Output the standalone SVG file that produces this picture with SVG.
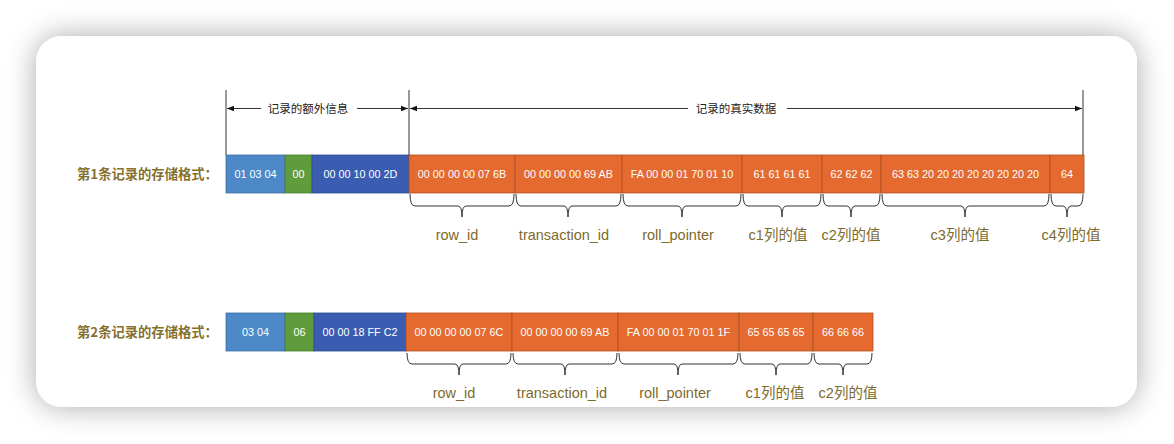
<svg xmlns="http://www.w3.org/2000/svg" width="1174" height="444" viewBox="0 0 1174 444">
<defs>
<filter id="sh" x="-10%" y="-20%" width="120%" height="140%">
<feGaussianBlur in="SourceAlpha" stdDeviation="15"/>
<feComponentTransfer><feFuncA type="linear" slope="0.34"/></feComponentTransfer>
<feMerge><feMergeNode/><feMergeNode in="SourceGraphic"/></feMerge>
</filter>
<marker id="ah" viewBox="0 0 10 10" refX="10" refY="5" markerWidth="7" markerHeight="7" orient="auto-start-reverse" markerUnits="userSpaceOnUse">
<path d="M0,1 L10,5 L0,9 Z" fill="#111"/>
</marker>
</defs>
<style>
.b1{fill:#4d89c8;stroke:#3f6fa3;stroke-width:0.8}
.g{fill:#5f9d3c;stroke:#4a7d2e;stroke-width:0.8}
.b2{fill:#3a5db1;stroke:#2e4b90;stroke-width:0.8}
.o{fill:#e46a30;stroke:#b04f22;stroke-width:0.8}
.bt{font-family:"Liberation Sans","Noto Sans",sans-serif;font-size:10.8px;fill:#fff;text-anchor:middle}
.rl{font-family:"Noto Sans CJK SC","Liberation Sans",sans-serif;font-size:13.3px;font-weight:bold;fill:#85702e}
.fl{font-family:"Liberation Sans","Noto Sans CJK SC",sans-serif;font-size:14.5px;fill:#7e6a2c;text-anchor:middle}
.tl{font-family:"Noto Sans CJK SC",sans-serif;font-size:11.5px;fill:#222;text-anchor:middle}
.ln{stroke:#333;stroke-width:1;fill:none}
.br{stroke:#333;stroke-width:1;fill:none}
</style>
<rect x="0" y="0" width="1174" height="444" fill="#ffffff"/>
<rect x="36" y="36" width="1101" height="371" rx="26" ry="26" fill="#ffffff" filter="url(#sh)"/>

<g id="top-dimensions">
<line class="ln" x1="226" y1="90" x2="226" y2="155"/>
<line class="ln" x1="409" y1="90" x2="409" y2="155"/>
<line class="ln" x1="1083" y1="90" x2="1083" y2="155"/>
<line class="ln" x1="227" y1="108.5" x2="261" y2="108.5" marker-start="url(#ah)"/>
<line class="ln" x1="357" y1="108.5" x2="408" y2="108.5" marker-end="url(#ah)"/>
<text class="tl" x="308" y="112.5">记录的额外信息</text>
<line class="ln" x1="410" y1="108.5" x2="688" y2="108.5" marker-start="url(#ah)"/>
<line class="ln" x1="787" y1="108.5" x2="1082" y2="108.5" marker-end="url(#ah)"/>
<text class="tl" x="736" y="112.5">记录的真实数据</text>
</g>

<g id="row1">
<text class="rl" x="77" y="178.5">第1条记录的存储格式：</text>
<rect class="b1" x="226" y="155" width="59" height="38"/>
<rect class="g" x="285" y="155" width="27" height="38"/>
<rect class="b2" x="312" y="155" width="97" height="38"/>
<rect class="o" x="409" y="155" width="106" height="38"/>
<rect class="o" x="515" y="155" width="107" height="38"/>
<rect class="o" x="622" y="155" width="120" height="38"/>
<rect class="o" x="742" y="155" width="80" height="38"/>
<rect class="o" x="822" y="155" width="59" height="38"/>
<rect class="o" x="881" y="155" width="169" height="38"/>
<rect class="o" x="1050" y="155" width="34" height="38"/>
<text class="bt" x="255.5" y="178">01 03 04</text>
<text class="bt" x="298.5" y="178">00</text>
<text class="bt" x="360.5" y="178">00 00 10 00 2D</text>
<text class="bt" x="462" y="178">00 00 00 00 07 6B</text>
<text class="bt" x="568.5" y="178">00 00 00 00 69 AB</text>
<text class="bt" x="682" y="178">FA 00 00 01 70 01 10</text>
<text class="bt" x="782" y="178">61 61 61 61</text>
<text class="bt" x="851.5" y="178">62 62 62</text>
<text class="bt" x="965.5" y="178">63 63 20 20 20 20 20 20 20 20</text>
<text class="bt" x="1067" y="178">64</text>
</g>

<g id="row1-braces">
<path class="br" d="M410,194 Q410,206 415,206 L458,206 Q462,206 462,217 Q462,206 466,206 L509,206 Q514,206 514,194"/>
<path class="br" d="M516,194 Q516,206 521,206 L564,206 Q568,206 568,217 Q568,206 572,206 L616,206 Q621,206 621,194"/>
<path class="br" d="M623,194 Q623,206 628,206 L678,206 Q682,206 682,217 Q682,206 686,206 L736,206 Q741,206 741,194"/>
<path class="br" d="M743,194 Q743,206 748,206 L778,206 Q782,206 782,217 Q782,206 786,206 L816,206 Q821,206 821,194"/>
<path class="br" d="M823,194 Q823,206 828,206 L847,206 Q851,206 851,217 Q851,206 855,206 L875,206 Q880,206 880,194"/>
<path class="br" d="M882,194 Q882,206 887,206 L961,206 Q965,206 965,217 Q965,206 969,206 L1044,206 Q1049,206 1049,194"/>
<path class="br" d="M1051,194 Q1051,206 1056,206 L1063,206 Q1067,206 1067,217 Q1067,206 1071,206 L1078,206 Q1083,206 1083,194"/>
<text class="fl" x="457" y="239.5">row_id</text>
<text class="fl" x="564" y="239.5">transaction_id</text>
<text class="fl" x="678" y="239.5">roll_pointer</text>
<text class="fl" x="778" y="239.5">c1列的值</text>
<text class="fl" x="851" y="239.5">c2列的值</text>
<text class="fl" x="960" y="239.5">c3列的值</text>
<text class="fl" x="1071" y="239.5">c4列的值</text>
</g>

<g id="row2">
<text class="rl" x="77" y="336.5">第2条记录的存储格式：</text>
<rect class="b1" x="226" y="313" width="59" height="38"/>
<rect class="g" x="285" y="313" width="29" height="38"/>
<rect class="b2" x="314" y="313" width="92" height="38"/>
<rect class="o" x="406" y="313" width="106" height="38"/>
<rect class="o" x="512" y="313" width="106" height="38"/>
<rect class="o" x="618" y="313" width="121" height="38"/>
<rect class="o" x="739" y="313" width="74" height="38"/>
<rect class="o" x="813" y="313" width="60" height="38"/>
<text class="bt" x="255.5" y="336">03 04</text>
<text class="bt" x="299.5" y="336">06</text>
<text class="bt" x="360" y="336">00 00 18 FF C2</text>
<text class="bt" x="459" y="336">00 00 00 00 07 6C</text>
<text class="bt" x="565" y="336">00 00 00 00 69 AB</text>
<text class="bt" x="678.5" y="336">FA 00 00 01 70 01 1F</text>
<text class="bt" x="776" y="336">65 65 65 65</text>
<text class="bt" x="843" y="336">66 66 66</text>
</g>

<g id="row2-braces">
<path class="br" d="M407,353 Q407,364 412,364 L455,364 Q459,364 459,375 Q459,364 463,364 L506,364 Q511,364 511,353"/>
<path class="br" d="M513,353 Q513,364 518,364 L561,364 Q565,364 565,375 Q565,364 569,364 L612,364 Q617,364 617,353"/>
<path class="br" d="M619,353 Q619,364 624,364 L674,364 Q678,364 678,375 Q678,364 682,364 L733,364 Q738,364 738,353"/>
<path class="br" d="M740,353 Q740,364 745,364 L772,364 Q776,364 776,375 Q776,364 780,364 L807,364 Q812,364 812,353"/>
<path class="br" d="M814,353 Q814,364 819,364 L839,364 Q843,364 843,375 Q843,364 847,364 L867,364 Q872,364 872,353"/>
<text class="fl" x="454" y="397.5">row_id</text>
<text class="fl" x="562" y="397.5">transaction_id</text>
<text class="fl" x="675" y="397.5">roll_pointer</text>
<text class="fl" x="775" y="397.5">c1列的值</text>
<text class="fl" x="848" y="397.5">c2列的值</text>
</g>
</svg>
